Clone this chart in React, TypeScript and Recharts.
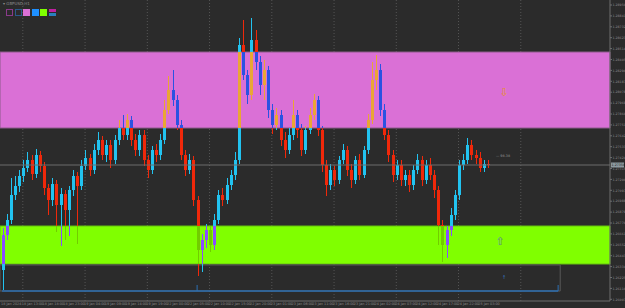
import React from "react";
import { ComposedChart, Bar, XAxis, YAxis, CartesianGrid, ReferenceArea, ReferenceLine, ReferenceDot } from "recharts";

// open, high, low, close (H1 bars)
const candles: [number, number, number, number][] = [
  [1.2630, 1.2672, 1.2610, 1.2665], [1.2665, 1.2686, 1.2660, 1.2680], [1.2680, 1.2722, 1.2676, 1.2705],
  [1.2705, 1.2724, 1.2700, 1.2714], [1.2714, 1.2730, 1.2708, 1.2724], [1.2724, 1.2740, 1.2718, 1.2732],
  [1.2732, 1.2748, 1.2728, 1.2740], [1.2740, 1.2745, 1.2720, 1.2726], [1.2726, 1.2751, 1.2722, 1.2745],
  [1.2745, 1.2749, 1.2728, 1.2734], [1.2734, 1.2738, 1.2705, 1.2712], [1.2712, 1.2716, 1.2685, 1.2700],
  [1.2700, 1.2722, 1.2694, 1.2716], [1.2716, 1.2720, 1.2668, 1.2695], [1.2695, 1.2712, 1.2654, 1.2706],
  [1.2706, 1.2710, 1.2660, 1.2690], [1.2690, 1.2714, 1.2664, 1.2710], [1.2710, 1.2730, 1.2704, 1.2724],
  [1.2724, 1.2728, 1.2656, 1.2714], [1.2714, 1.2740, 1.2710, 1.2734], [1.2734, 1.2750, 1.2730, 1.2742],
  [1.2742, 1.2746, 1.2724, 1.2730], [1.2730, 1.2756, 1.2726, 1.2750], [1.2750, 1.2768, 1.2745, 1.2760],
  [1.2760, 1.2764, 1.2740, 1.2745], [1.2745, 1.2760, 1.2738, 1.2755], [1.2755, 1.2760, 1.2732, 1.2740],
  [1.2740, 1.2765, 1.2736, 1.2760], [1.2760, 1.2780, 1.2755, 1.2772], [1.2772, 1.2785, 1.2760, 1.2765],
  [1.2765, 1.2786, 1.2760, 1.2780], [1.2780, 1.2784, 1.2754, 1.2760], [1.2760, 1.2766, 1.2744, 1.2750],
  [1.2750, 1.2770, 1.2744, 1.2765], [1.2765, 1.2770, 1.2734, 1.2740], [1.2740, 1.2745, 1.2722, 1.2730],
  [1.2730, 1.2754, 1.2726, 1.2750], [1.2750, 1.2756, 1.2738, 1.2745], [1.2745, 1.2766, 1.2740, 1.2760],
  [1.2760, 1.2800, 1.2756, 1.2790], [1.2790, 1.2824, 1.2786, 1.2810], [1.2810, 1.2830, 1.2794, 1.2800],
  [1.2800, 1.2805, 1.2770, 1.2775], [1.2775, 1.2780, 1.2740, 1.2745], [1.2745, 1.2750, 1.2724, 1.2730],
  [1.2730, 1.2746, 1.2726, 1.2740], [1.2740, 1.2744, 1.2694, 1.2700], [1.2700, 1.2704, 1.2624, 1.2650],
  [1.2650, 1.2666, 1.2628, 1.2660], [1.2660, 1.2676, 1.2652, 1.2670], [1.2670, 1.2674, 1.2648, 1.2655],
  [1.2655, 1.2686, 1.2650, 1.2680], [1.2680, 1.2710, 1.2676, 1.2705], [1.2705, 1.2712, 1.2694, 1.2700],
  [1.2700, 1.2722, 1.2696, 1.2715], [1.2715, 1.2730, 1.2710, 1.2725], [1.2725, 1.2748, 1.2720, 1.2740],
  [1.2740, 1.2862, 1.2736, 1.2855], [1.2855, 1.2880, 1.2820, 1.2825], [1.2825, 1.2830, 1.2796, 1.2805],
  [1.2805, 1.2882, 1.2800, 1.2860], [1.2860, 1.2870, 1.2830, 1.2838], [1.2838, 1.2844, 1.2805, 1.2815],
  [1.2815, 1.2840, 1.2800, 1.2830], [1.2830, 1.2834, 1.2782, 1.2790], [1.2790, 1.2796, 1.2766, 1.2775],
  [1.2775, 1.2792, 1.2770, 1.2785], [1.2785, 1.2790, 1.2754, 1.2760], [1.2760, 1.2768, 1.2742, 1.2750],
  [1.2750, 1.2772, 1.2746, 1.2765], [1.2765, 1.2800, 1.2760, 1.2785], [1.2785, 1.2790, 1.2762, 1.2770],
  [1.2770, 1.2776, 1.2744, 1.2750], [1.2750, 1.2774, 1.2746, 1.2770], [1.2770, 1.2792, 1.2766, 1.2785],
  [1.2785, 1.2806, 1.2780, 1.2800], [1.2800, 1.2804, 1.2764, 1.2770], [1.2770, 1.2774, 1.2728, 1.2735],
  [1.2735, 1.2740, 1.2704, 1.2715], [1.2715, 1.2736, 1.2710, 1.2730], [1.2730, 1.2734, 1.2714, 1.2720],
  [1.2720, 1.2744, 1.2716, 1.2740], [1.2740, 1.2756, 1.2736, 1.2750], [1.2750, 1.2754, 1.2724, 1.2730],
  [1.2730, 1.2736, 1.2712, 1.2720], [1.2720, 1.2744, 1.2716, 1.2740], [1.2740, 1.2746, 1.2720, 1.2725],
  [1.2725, 1.2754, 1.2722, 1.2750], [1.2750, 1.2786, 1.2746, 1.2780], [1.2780, 1.2838, 1.2776, 1.2820],
  [1.2820, 1.2845, 1.2810, 1.2830], [1.2830, 1.2836, 1.2784, 1.2790], [1.2790, 1.2796, 1.2760, 1.2765],
  [1.2765, 1.2770, 1.2738, 1.2745], [1.2745, 1.2750, 1.2718, 1.2725], [1.2725, 1.2740, 1.2720, 1.2735],
  [1.2735, 1.2740, 1.2714, 1.2720], [1.2720, 1.2730, 1.2714, 1.2725], [1.2725, 1.2730, 1.2708, 1.2715],
  [1.2715, 1.2735, 1.2710, 1.2730], [1.2730, 1.2746, 1.2726, 1.2740], [1.2740, 1.2744, 1.2714, 1.2720],
  [1.2720, 1.2740, 1.2716, 1.2735], [1.2735, 1.2742, 1.2720, 1.2725], [1.2725, 1.2730, 1.2702, 1.2710],
  [1.2710, 1.2714, 1.2655, 1.2675], [1.2675, 1.2680, 1.2638, 1.2655], [1.2655, 1.2674, 1.2642, 1.2670],
  [1.2670, 1.2692, 1.2664, 1.2685], [1.2685, 1.2710, 1.2680, 1.2705], [1.2705, 1.2740, 1.2700, 1.2735],
  [1.2735, 1.2746, 1.2730, 1.2740], [1.2740, 1.2762, 1.2736, 1.2755], [1.2755, 1.2760, 1.2740, 1.2745],
  [1.2745, 1.2750, 1.2736, 1.2742], [1.2742, 1.2748, 1.2728, 1.2732], [1.2732, 1.2740, 1.2728, 1.2736],
  [1.2736, 1.2740, 1.2732, 1.2735],
];

const timeLabels = [
  "18 Jan 2024", "18 Jan 13:00", "18 Jan 18:00", "18 Jan 23:00", "19 Jan 04:00", "19 Jan 09:00",
  "19 Jan 14:00", "19 Jan 19:00", "22 Jan 00:00", "22 Jan 05:00", "22 Jan 10:00", "22 Jan 15:00",
  "22 Jan 20:00", "23 Jan 01:00", "23 Jan 06:00", "23 Jan 11:00", "23 Jan 16:00", "23 Jan 21:00",
  "24 Jan 02:00", "24 Jan 07:00", "24 Jan 12:00", "24 Jan 17:00", "24 Jan 22:00", "25 Jan 03:00",
];

const priceTicks = [
  1.2895, 1.28841, 1.28732, 1.28623, 1.28514, 1.28405, 1.28296, 1.28187, 1.28078, 1.27969,
  1.2786, 1.27751, 1.27642, 1.27533, 1.27424, 1.27315, 1.27206, 1.27097, 1.26988, 1.26879,
  1.2677, 1.26661, 1.26552, 1.26443, 1.26334, 1.26225, 1.26116, 1.26007,
];

const currentPrice = 1.2735;
const sellZone = [1.2772, 1.2848];
const buyZone = [1.2636, 1.2674];
const targetBox = [1.2609, 1.2635];

const SLOTS = 147;
const BG = "#2b2b2b";
const UP = "#22c3f0";
const DOWN = "#f0280a";
const FONT = "DejaVu Sans";

const zones = [
  { lo: sellZone[0], hi: sellZone[1], up: "#e9a634", down: "#2b52e2" },
  { lo: buyZone[0], hi: buyZone[1], up: "#8a4cff", down: "#72cc00" },
];

const rows = Array.from({ length: SLOTS }, (_, i) => {
  const c = candles[i];
  if (!c) return { i };
  return { i, open: c[0], high: c[1], low: c[2], close: c[3], range: [c[2], c[1]] };
});

function Candle(props: any) {
  const { x, y, width, height, payload } = props;
  if (!payload || payload.open == null) return null;
  const { open, high, low, close } = payload;
  const top = Math.min(y, y + height);
  const h = Math.abs(height);
  const k = high > low ? h / (high - low) : 0;
  const py = (p: number) => top + (high - p) * k;
  const up = close >= open;
  const cx = Math.round(x + width / 2);
  const bodyTop = py(Math.max(open, close));
  const bodyH = Math.max(1, py(Math.min(open, close)) - bodyTop);
  const parts = [
    { x: cx, y: top, w: 1, h: h },
    { x: cx - 1, y: bodyTop, w: 3, h: bodyH },
  ];
  const out: any[] = [];
  parts.forEach((p, n) => {
    out.push(<rect key={`p${n}`} x={p.x} y={p.y} width={p.w} height={p.h} fill={up ? UP : DOWN} />);
    // colours seen where a candle crosses a zone
    zones.forEach((z, m) => {
      const a = Math.max(p.y, py(z.hi));
      const b = Math.min(p.y + p.h, py(z.lo));
      if (b > a) out.push(<rect key={`z${n}${m}`} x={p.x} y={a} width={p.w} height={b - a} fill={up ? z.up : z.down} />);
    });
  });
  return <g shapeRendering="crispEdges">{out}</g>;
}

function TimeTick(props: any) {
  const { x, y, payload } = props;
  const label = payload.value % 5 === 0 ? timeLabels[payload.value / 5] : undefined;
  if (!label) return null;
  return (
    <text x={x - 1} y={y + 4.2} fontSize={3.4} fill="#8c8c8c" textAnchor="start" fontFamily={FONT}>
      {label}
    </text>
  );
}

function PriceTick(props: any) {
  const { x, y, payload } = props;
  return (
    <text x={x + 0.5} y={y + 1.2} fontSize={3.2} fill="#8c8c8c" textAnchor="start" fontFamily={FONT}>
      {payload.value.toFixed(5)}
    </text>
  );
}

function PriceLabel(props: any) {
  const { viewBox } = props;
  const yy = viewBox.y;
  const xx = viewBox.x + viewBox.width;
  return (
    <g>
      <rect x={xx + 1} y={yy - 2.5} width={13} height={5} fill="#8d9aa0" />
      <text x={xx + 1.6} y={yy + 1.2} fontSize={3.2} fill="#1a1a1a" fontFamily={FONT}>
        {currentPrice.toFixed(5)}
      </text>
    </g>
  );
}

const arrow = (ch: string, color: string, size: number) => (p: any) => (
  <text x={p.cx} y={p.cy} fontSize={size} fill={color} textAnchor="middle" dominantBaseline="middle" fontFamily={FONT}>
    {ch}
  </text>
);

const gridBars: number[] = [];
for (let b = 5; b <= 125; b += 15) gridBars.push(b);

// vertical grid sits under the zones, so it goes through CartesianGrid
const gridX = (args: any) => {
  const left = args?.offset?.left ?? 0;
  const w = args?.offset?.width ?? 610;
  const slot = w / SLOTS;
  return gridBars.map((b) => left + (b + 0.5) * slot);
};

const buttons = [
  { border: "#8a3a8a", fill: "none" },
  { border: "#2a5a8a", fill: "none" },
  { border: "#da70d6", fill: "#da70d6" },
  { border: "#1e90ff", fill: "#1e90ff" },
  { border: "#7fff00", fill: "#7fff00" },
];

export default function App() {
  return (
    <div style={{ position: "absolute", left: 0, top: 0, width: 625, height: 308, background: BG, overflow: "hidden" }}>
      <ComposedChart width={625} height={308} data={rows} margin={{ top: 0, right: 0, bottom: 0, left: 0 }} barCategoryGap={0}>
        <CartesianGrid
          horizontal={false}
          vertical
          verticalCoordinatesGenerator={gridX}
          stroke="#555555"
          strokeDasharray="1 2"
        />
        <XAxis
          dataKey="i"
          type="category"
          interval={4}
          tick={TimeTick}
          tickLine={false}
          tickSize={0}
          tickMargin={0}
          axisLine={{ stroke: "#6e6e6e" }}
          height={7}
        />
        <YAxis
          orientation="right"
          type="number"
          domain={[1.2599, 1.29]}
          ticks={priceTicks}
          interval={0}
          allowDataOverflow
          width={15}
          tick={PriceTick}
          tickSize={2}
          tickMargin={0}
          tickLine={{ stroke: "#6e6e6e" }}
          axisLine={{ stroke: "#6e6e6e" }}
        />
        <ReferenceArea y1={sellZone[0]} y2={sellZone[1]} fill="#da70d6" fillOpacity={1} stroke="#8e5a8c" />
        <ReferenceArea y1={buyZone[0]} y2={buyZone[1]} fill="#80ff00" fillOpacity={1} stroke="#66c010" />
        <ReferenceArea x1={0} x2={134} y1={targetBox[0]} y2={targetBox[1]} fill="none" stroke="#585858" />
        <ReferenceLine
          segment={[{ x: 0, y: targetBox[0] }, { x: 134, y: targetBox[0] }]}
          stroke="#2c6fb2"
          strokeWidth={1.3}
        />
        <ReferenceLine segment={[{ x: 47, y: targetBox[0] }, { x: 47, y: 1.2615 }]} stroke="#2c6fb2" />
        <ReferenceLine segment={[{ x: 134, y: targetBox[0] }, { x: 134, y: 1.2615 }]} stroke="#2c6fb2" />
        <ReferenceLine y={currentPrice} stroke="#6c6c6c" label={PriceLabel} />
        <Bar dataKey="range" barSize={3} shape={Candle} isAnimationActive={false} />
        <ReferenceDot x={121} y={1.2807} r={0} shape={arrow("⇩", "#e8902a", 11)} />
        <ReferenceDot x={120} y={1.2658} r={0} shape={arrow("⇧", "#5f7f9a", 11)} />
        <ReferenceDot x={121} y={1.2622} r={0} shape={arrow("↑", "#3a7fd0", 5)} />
        <ReferenceDot
          x={119}
          y={1.2743}
          r={0}
          shape={(p: any) => (
            <text x={p.cx} y={p.cy} fontSize={3.4} fill="#9a9a9a" fontFamily={FONT}>
              — 98.38
            </text>
          )}
        />
      </ComposedChart>
      <div style={{ position: "absolute", left: 3, top: 1, fontSize: 4, color: "#8c8c8c", fontFamily: FONT }}>
        ▾ GBPUSD,H1
      </div>
      <div style={{ position: "absolute", left: 6, top: 9, display: "flex", gap: 1.5 }}>
        {buttons.map((b, n) => (
          <div key={n} style={{ width: 5, height: 5, border: `1px solid ${b.border}`, background: b.fill }} />
        ))}
        <div style={{ width: 7, height: 7, display: "flex", flexDirection: "column" }}>
          <div style={{ height: 3, background: "#c020a0" }} />
          <div style={{ height: 1, background: BG }} />
          <div style={{ height: 3, background: "#2a7fbf" }} />
        </div>
      </div>
    </div>
  );
}
